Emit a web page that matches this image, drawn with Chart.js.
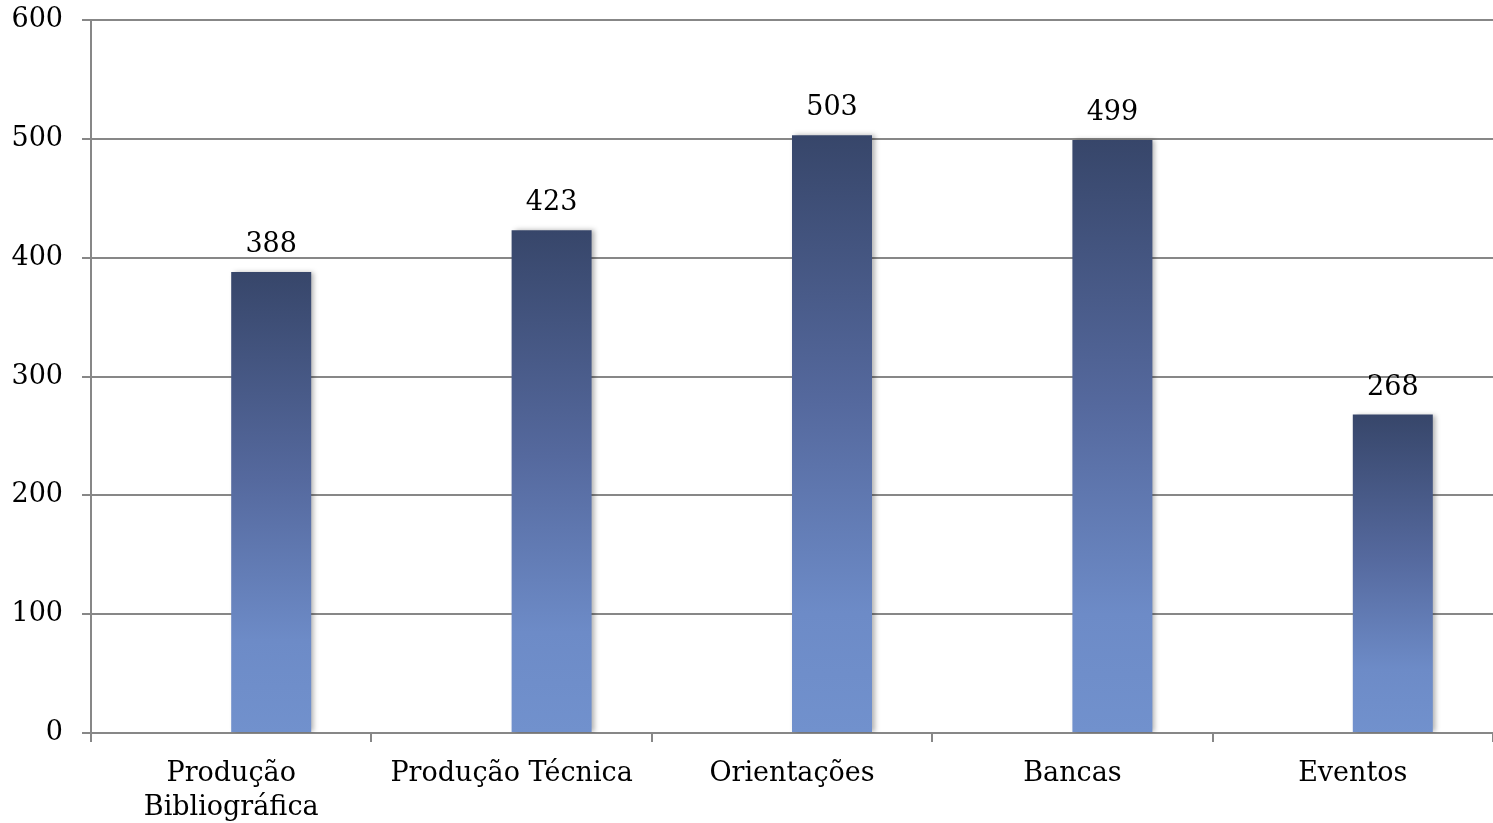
<!DOCTYPE html>
<html>
<head>
<meta charset="utf-8">
<script src="https://cdn.jsdelivr.net/npm/chart.js@4.4.1/dist/chart.umd.min.js"></script>
<style>
  html, body { margin: 0; padding: 0; background: #fff; }
  #wrap { width: 1493px; height: 823px; }
</style>
</head>
<body>
<div id="wrap"><canvas id="grafico"></canvas></div>
<script>
const categorias = [
  ["Produção", "Bibliográfica"],
  "Produção Técnica",
  "Orientações",
  "Bancas",
  "Eventos",
];
// first series is empty in the original sheet, so bars sit right of centre
const serieVazia = [null, null, null, null, null];
const totais = [388, 423, 503, 499, 268];
const ticksY = [0, 100, 200, 300, 400, 500, 600];

const corGrade = "#878787";
const fonte = { family: "'DejaVu Serif', serif", size: 27 };

function gradienteBarra(context) {
  const chart = context.chart;
  const area = chart.chartArea;
  if (!area) return "#5a74ab";
  const y = chart.scales.y;
  const v = context.raw || 0;
  const topo = y.getPixelForValue(v);
  const base = y.getPixelForValue(0);
  const g = chart.ctx.createLinearGradient(0, topo, 0, base);
  g.addColorStop(0, "#37466a");
  g.addColorStop(0.45, "#55699e");
  g.addColorStop(0.8, "#6d8bc7");
  g.addColorStop(1, "#7191cd");
  return g;
}

const sombra = {
  id: "sombra",
  beforeDatasetDraw(chart, args) {
    const ctx = chart.ctx;
    ctx.save();
    ctx.shadowColor = "rgba(0,0,0,0.3)";
    ctx.shadowBlur = 5;
    ctx.shadowOffsetX = 3;
    ctx.shadowOffsetY = 0;
  },
  afterDatasetDraw(chart, args) {
    chart.ctx.restore();
  },
};

const rotulos = {
  id: "rotulos",
  afterDatasetsDraw(chart) {
    const ctx = chart.ctx;
    const meta = chart.getDatasetMeta(1);
    ctx.save();
    ctx.font = fonte.size + "px " + fonte.family;
    ctx.fillStyle = "#000";
    ctx.textAlign = "center";
    ctx.textBaseline = "middle";
    meta.data.forEach((bar, i) => {
      ctx.fillText(String(totais[i]), bar.x, bar.y - 27);
    });
    ctx.restore();
  },
};

new Chart(document.getElementById("grafico"), {
  type: "bar",
  data: {
    labels: categorias,
    datasets: [
      { label: "", data: serieVazia },
      {
        label: "Total",
        data: totais,
        backgroundColor: gradienteBarra,
        borderWidth: 0,
      },
    ],
  },
  options: {
    responsive: true,
    maintainAspectRatio: false,
    animation: false,
    layout: { padding: { top: 20, right: 0, left: 0, bottom: 0 } },
    datasets: {
      bar: { categoryPercentage: 160 / 280.4, barPercentage: 1 },
    },
    plugins: {
      legend: { display: false },
      tooltip: { enabled: false },
    },
    scales: {
      x: {
        offset: true,
        grid: {
          offset: true,
          drawOnChartArea: false,
          drawTicks: true,
          tickLength: 9,
          color: corGrade,
          lineWidth: 2,
        },
        border: { color: corGrade, width: 2 },
        ticks: {
          color: "#000",
          font: { ...fonte, lineHeight: 1.25 },
          padding: 15,
          maxRotation: 0,
          autoSkip: false,
        },
        afterFit(axis) { axis.height = 90; },
      },
      y: {
        min: 0,
        max: 600,
        afterBuildTicks(axis) {
          axis.ticks = ticksY.map((v) => ({ value: v }));
        },
        grid: {
          color: corGrade,
          lineWidth: 2,
          tickLength: 9,
        },
        border: { color: corGrade, width: 2 },
        ticks: {
          color: "#000",
          font: fonte,
          padding: 19,
        },
        afterFit(axis) {
          axis.width = 91;
          axis.paddingTop = 0;
          axis.paddingBottom = 0;
        },
      },
    },
  },
  plugins: [sombra, rotulos],
});
</script>
</body>
</html>
